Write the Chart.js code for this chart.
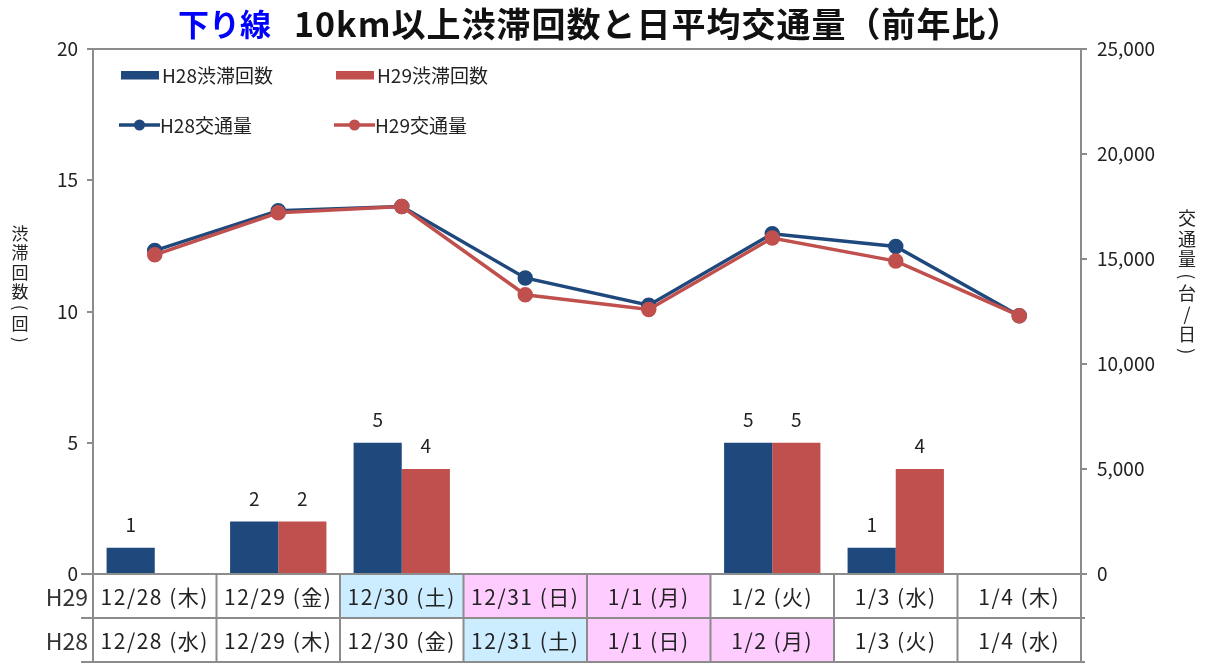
<!DOCTYPE html>
<html lang="ja">
<head>
<meta charset="utf-8">
<script src="https://cdn.jsdelivr.net/npm/chart.js@4/dist/chart.umd.min.js"></script>
<style>
  html, body { margin: 0; padding: 0; background: #fff; }
  #wrap { width: 1207px; height: 663px; }
</style>
</head>
<body>
<div id="wrap"><canvas id="chart" width="1207" height="663"></canvas></div>
<script>
// 下り線：10km以上の渋滞回数と日平均交通量
const dates      = ['12/28', '12/29', '12/30', '12/31', '1/1', '1/2', '1/3', '1/4'];
const daysH29    = ['木', '金', '土', '日', '月', '火', '水', '木'];
const daysH28    = ['水', '木', '金', '土', '日', '月', '火', '水'];
const holidaysH29 = ['1/1'];
const holidaysH28 = ['1/2'];
const jamH28     = [1, 2, 5, 0, 0, 5, 1, 0];
const jamH29     = [0, 2, 4, 0, 0, 5, 4, 0];
const trafficH28 = [15400, 17300, 17500, 14100, 12800, 16200, 15600, 12300];
const trafficH29 = [15200, 17200, 17500, 13300, 12600, 16000, 14900, 12300];
const jamTicks     = [0, 5, 10, 15, 20];
const trafficTicks = [0, 5000, 10000, 15000, 20000, 25000];

const BLUE = '#1F497D';
const RED  = '#C0504D';
const GRID = '#8C8C8C';
const FONT = '"Noto Sans CJK JP", "Noto Sans", sans-serif';

function cellColor(date, day, holidays) {
  if (day === '日' || holidays.includes(date)) return '#FFCCFF';
  if (day === '土') return '#CCECFF';
  return '#FFFFFF';
}

function drawVertical(ctx, text, x, yCenter, size) {
  const chars = [...text];
  const isParen = c => '()（）'.includes(c);
  const steps = chars.map(c => isParen(c) ? size * 0.75 : size * 1.14);
  const total = steps.reduce((a, b) => a + b, 0);
  let y = yCenter - total / 2;
  ctx.textAlign = 'center';
  ctx.textBaseline = 'middle';
  chars.forEach((c, i) => {
    ctx.save();
    ctx.translate(x, y + steps[i] / 2);
    if (isParen(c)) ctx.rotate(Math.PI / 2);
    ctx.fillText(isParen(c) ? (c === '(' || c === '（' ? '(' : ')') : c, 0, 0);
    ctx.restore();
    y += steps[i];
  });
}

const decorations = {
  id: 'decorations',
  beforeDatasetsDraw(chart) {
    const { ctx, chartArea } = chart;
    ctx.save();
    ctx.strokeStyle = GRID;
    ctx.lineWidth = 2;
    ctx.beginPath();
    ctx.moveTo(chartArea.left, chartArea.top);
    ctx.lineTo(chartArea.right, chartArea.top);
    ctx.stroke();
    ctx.restore();
  },
  afterDraw(chart) {
    const { ctx, chartArea } = chart;
    const x = chart.scales.x;
    const half = (x.getPixelForValue(1) - x.getPixelForValue(0)) / 2;
    const top = chartArea.bottom;
    const rowH = 44;

    ctx.save();
    // table rows: H29 above, H28 below
    const rows = [
      { label: 'H29', days: daysH29, holidays: holidaysH29 },
      { label: 'H28', days: daysH28, holidays: holidaysH28 }
    ];
    rows.forEach((row, r) => {
      const y0 = top + r * rowH;
      dates.forEach((d, i) => {
        const cx = x.getPixelForValue(i);
        ctx.fillStyle = cellColor(d, row.days[i], row.holidays);
        ctx.fillRect(cx - half, y0, half * 2, rowH);
        ctx.fillStyle = '#222';
        ctx.font = '21px ' + FONT;
        ctx.letterSpacing = '1.5px';
        ctx.textAlign = 'center';
        ctx.textBaseline = 'middle';
        ctx.fillText(d + ' (' + row.days[i] + ')', cx, y0 + rowH / 2 + 1);
      });
      ctx.letterSpacing = '0px';
      ctx.fillStyle = '#333';
      ctx.font = '23px ' + FONT;
      ctx.textAlign = 'right';
      ctx.fillText(row.label, 88, y0 + rowH / 2 + 1);
    });

    ctx.strokeStyle = GRID;
    ctx.lineWidth = 2;
    ctx.beginPath();
    for (let r = 0; r <= 2; r++) {
      const y = Math.min(top + r * rowH, 662);
      ctx.moveTo(chartArea.left - 12, y);
      ctx.lineTo(chartArea.right + 4, y);
    }
    for (let i = 0; i <= dates.length; i++) {
      const bx = x.getPixelForValue(0) - half + i * half * 2;
      ctx.moveTo(bx, top);
      ctx.lineTo(bx, 663);
    }
    ctx.stroke();

    // title
    ctx.textBaseline = 'middle';
    ctx.textAlign = 'left';
    ctx.font = 'bold 31px ' + FONT;
    ctx.fillStyle = '#0000FF';
    ctx.fillText('下り線', 178, 24);
    ctx.fillStyle = '#111';
    ctx.font = 'bold 34px ' + FONT;
    ctx.letterSpacing = '1px';
    ctx.fillText('10km以上渋滞回数と日平均交通量（前年比）', 294, 24);
    ctx.letterSpacing = '0px';

    // axis titles written top to bottom
    ctx.fillStyle = '#222';
    ctx.font = '17px ' + FONT;
    drawVertical(ctx, '渋滞回数(回)', 20, 285, 17);
    ctx.font = '18px ' + FONT;
    drawVertical(ctx, '交通量(台/日)', 1187, 283, 18);

    // legend
    ctx.font = '19px ' + FONT;
    ctx.textAlign = 'left';
    ctx.textBaseline = 'middle';
    const items = [
      { ds: 2, x: 121, y: 75, bar: true },
      { ds: 3, x: 336, y: 75, bar: true },
      { ds: 0, x: 119, y: 125, bar: false },
      { ds: 1, x: 334, y: 125, bar: false }
    ];
    items.forEach(it => {
      const ds = chart.data.datasets[it.ds];
      if (it.bar) {
        ctx.fillStyle = ds.backgroundColor;
        ctx.fillRect(it.x, it.y - 4, 38, 8.5);
      } else {
        ctx.strokeStyle = ds.borderColor;
        ctx.lineWidth = 3.5;
        ctx.beginPath();
        ctx.moveTo(it.x, it.y);
        ctx.lineTo(it.x + 41, it.y);
        ctx.stroke();
        ctx.fillStyle = ds.borderColor;
        ctx.beginPath();
        ctx.arc(it.x + 20.5, it.y, 5.5, 0, Math.PI * 2);
        ctx.fill();
      }
      ctx.fillStyle = '#222';
      ctx.fillText(ds.label, it.x + 41, it.y + 1);
    });
    ctx.restore();
  },
  afterDatasetsDraw(chart) {
    const { ctx } = chart;
    ctx.save();
    ctx.fillStyle = '#222';
    ctx.font = '19px ' + FONT;
    ctx.textAlign = 'center';
    ctx.textBaseline = 'middle';
    [2, 3].forEach(di => {
      const meta = chart.getDatasetMeta(di);
      const values = chart.data.datasets[di].data;
      meta.data.forEach((bar, i) => {
        if (values[i] > 0) ctx.fillText(String(values[i]), bar.x, bar.y - 23);
      });
    });
    ctx.restore();
  }
};

new Chart(document.getElementById('chart'), {
  type: 'bar',
  data: {
    labels: dates,
    datasets: [
      {
        type: 'line', label: 'H28交通量', data: trafficH28, yAxisID: 'y1',
        borderColor: BLUE, backgroundColor: BLUE, borderWidth: 3.5,
        pointRadius: 6, pointHoverRadius: 6, tension: 0, order: 1
      },
      {
        type: 'line', label: 'H29交通量', data: trafficH29, yAxisID: 'y1',
        borderColor: RED, backgroundColor: RED, borderWidth: 3.5,
        pointRadius: 6, pointHoverRadius: 6, tension: 0, order: 0
      },
      {
        label: 'H28渋滞回数', data: jamH28, yAxisID: 'y',
        backgroundColor: BLUE, barPercentage: 1, categoryPercentage: 0.78, order: 2
      },
      {
        label: 'H29渋滞回数', data: jamH29, yAxisID: 'y',
        backgroundColor: RED, barPercentage: 1, categoryPercentage: 0.78, order: 3
      }
    ]
  },
  options: {
    responsive: false,
    animation: false,
    layout: { padding: { top: 49, bottom: 89, left: 0, right: 0 } },
    plugins: {
      legend: { display: false },
      tooltip: { enabled: false },
      title: { display: false }
    },
    scales: {
      x: { display: false },
      y: {
        position: 'left', min: 0, max: 20,
        afterBuildTicks: s => { s.ticks = jamTicks.map(v => ({ value: v })); },
        ticks: { color: '#222', font: { family: FONT, size: 19 }, padding: 9 },
        grid: { drawOnChartArea: false, tickLength: 6, color: GRID, lineWidth: 2 },
        border: { color: GRID, width: 2 },
        afterFit: s => { s.width = 93; }
      },
      y1: {
        position: 'right', min: 0, max: 25000,
        afterBuildTicks: s => { s.ticks = trafficTicks.map(v => ({ value: v })); },
        ticks: {
          color: '#222', font: { family: FONT, size: 19 }, padding: 10,
          callback: v => v.toLocaleString('en-US')
        },
        grid: { drawOnChartArea: false, tickLength: 6, color: GRID, lineWidth: 2 },
        border: { color: GRID, width: 2 },
        afterFit: s => { s.width = 126; }
      }
    }
  },
  plugins: [decorations]
});
</script>
</body>
</html>
